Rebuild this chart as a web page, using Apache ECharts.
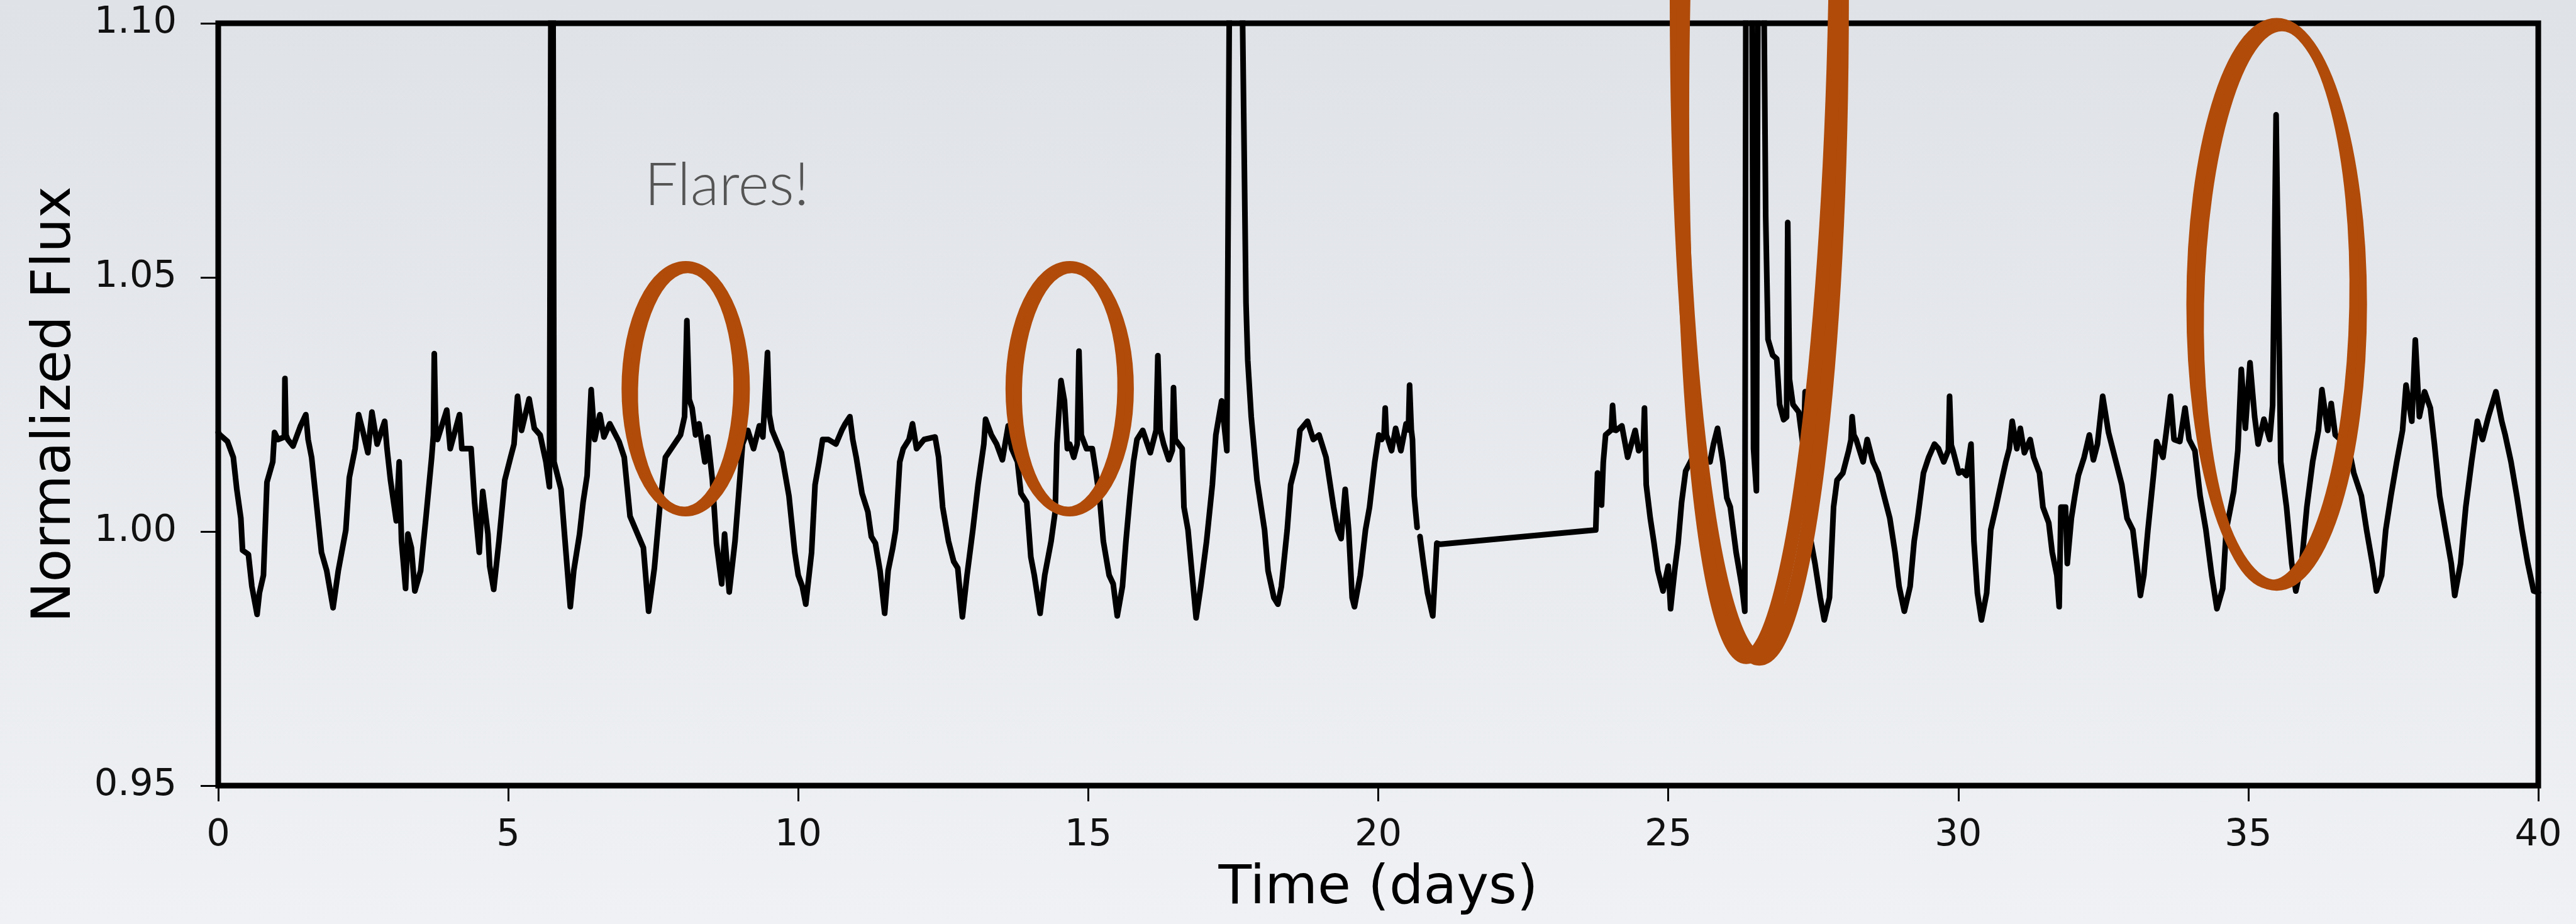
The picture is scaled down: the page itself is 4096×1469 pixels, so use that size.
<!DOCTYPE html>
<html>
<head>
<meta charset="utf-8">
<script src="https://cdn.jsdelivr.net/npm/echarts/dist/echarts.min.js"></script>
<style>
html,body{margin:0;padding:0;width:4096px;height:1469px;overflow:hidden;background:#e9ebef;}
#chart{width:4096px;height:1469px;}
</style>
</head>
<body>
<div id="chart"></div>
<script>
// ---------------- data ----------------
const timeDays = [
 0.00,0.03,0.16,0.26,0.32,0.39,0.42,0.52,0.58,0.67,0.71,0.78,0.84,0.94,0.97,1.03,1.14,1.15,1.17,1.20,
 1.29,1.42,1.51,1.55,1.61,1.68,1.78,1.87,1.98,2.07,2.20,2.26,2.36,2.42,2.49,2.58,2.65,2.74,2.87,2.91,
 2.97,3.07,3.12,3.16,3.23,3.27,3.33,3.39,3.49,3.58,3.68,3.71,3.725,3.75,3.78,3.94,4.00,4.16,4.20,4.36,
 4.42,4.50,4.56,4.65,4.68,4.75,4.84,4.94,5.04,5.10,5.16,5.23,5.36,5.45,5.55,5.65,5.71,5.74,5.77,5.79,
 5.91,5.97,6.07,6.13,6.23,6.29,6.36,6.43,6.49,6.58,6.65,6.75,6.91,7.00,7.10,7.20,7.33,7.42,7.52,7.62,
 7.71,7.84,7.97,8.04,8.08,8.12,8.17,8.23,8.29,8.39,8.44,8.52,8.59,8.68,8.73,8.81,8.91,9.04,9.13,9.23,
 9.33,9.39,9.47,9.50,9.55,9.71,9.84,9.94,
 10.00,10.07,10.13,10.23,10.29,10.36,10.42,10.52,10.65,10.75,10.81,10.89,10.94,11.00,11.10,11.20,11.26,11.33,11.41,11.49,
 11.55,11.63,11.68,11.75,11.81,11.91,11.97,12.04,12.17,12.36,12.42,12.49,12.59,12.68,12.75,12.83,12.91,13.01,13.10,13.20,
 13.23,13.33,13.42,13.52,13.62,13.68,13.78,13.84,13.94,14.01,14.07,14.17,14.25,14.36,14.43,14.46,14.53,14.59,14.64,14.68,
 14.75,14.81,14.84,14.88,14.97,15.07,15.13,15.20,15.26,15.36,15.43,15.50,15.59,15.65,15.72,15.78,15.84,15.94,16.07,16.17,
 16.20,16.24,16.30,16.39,16.45,16.47,16.50,16.62,16.65,16.72,16.78,16.86,16.94,17.04,17.14,17.20,17.30,17.39,17.44,17.64,
 17.72,17.75,17.81,17.91,17.98,18.04,18.10,18.20,18.27,18.33,18.43,18.49,18.59,18.65,18.78,18.88,18.98,19.10,19.23,19.30,
 19.36,19.43,19.49,19.55,19.59,19.69,19.78,19.85,19.94,20.01,
 20.06,20.10,20.12,20.14,20.17,20.23,20.30,20.39,20.48,20.52,20.54,20.57,20.59,20.62,20.67,20.69,20.72,20.78,20.85,20.94,
 21.01,21.07,23.75,23.78,23.85,23.88,23.92,24.02,24.04,24.07,24.10,24.20,24.30,24.43,24.49,24.57,24.59,24.62,24.69,24.75,
 24.82,24.91,25.00,25.04,25.11,25.17,25.23,25.30,25.40,25.49,25.59,25.72,25.78,25.85,25.94,26.01,26.07,26.17,26.27,26.32,
 26.34,26.44,26.47,26.52,26.55,26.64,26.68,26.72,26.80,26.87,26.92,26.99,27.04,27.06,27.09,27.15,27.25,27.33,27.36,27.40,
 27.46,27.53,27.62,27.69,27.78,27.85,27.91,28.01,28.11,28.15,28.17,28.20,28.24,28.36,28.43,28.53,28.62,28.72,28.82,28.91,
 28.98,29.07,29.17,29.24,29.30,29.40,29.49,29.59,29.66,29.75,29.83,29.85,29.88,29.91,30.01,
 30.07,30.14,30.22,30.27,30.33,30.40,30.49,30.56,30.65,30.75,30.82,30.88,30.93,31.01,31.07,31.14,31.24,31.30,31.40,31.46,
 31.56,31.62,31.70,31.74,31.77,31.85,31.88,31.95,32.01,32.07,32.17,32.26,32.33,32.40,32.49,32.59,32.72,32.82,32.91,33.01,
 33.08,33.14,33.20,33.27,33.37,33.42,33.53,33.59,33.66,33.72,33.82,33.91,33.98,34.08,34.17,34.27,34.37,34.46,34.56,34.62,
 34.75,34.82,34.88,34.95,35.03,35.11,35.17,35.27,35.37,35.42,35.48,35.56,35.66,35.75,35.82,35.92,36.01,36.11,36.21,36.27,
 36.37,36.43,36.50,36.59,36.72,36.82,36.95,37.04,37.14,37.21,37.30,37.37,37.46,37.56,37.66,37.72,37.82,37.88,37.95,38.04,
 38.14,38.21,38.30,38.40,38.50,38.56,38.66,38.75,38.85,38.95,39.04,39.14,39.27,39.37,39.43,39.53,39.63,39.72,39.82,39.92,
 40.00
];
const normalizedFlux = [
 1.0195,1.0190,1.0177,1.0146,1.0083,1.0026,0.9963,0.9955,0.9892,0.9837,0.9879,0.9914,1.0097,1.0137,1.0195,1.0181,1.0186,1.0301,1.0190,1.0181,
 1.0168,1.0208,1.0230,1.0181,1.0146,1.0070,0.9959,0.9923,0.9850,0.9923,1.0003,1.0106,1.0163,1.0230,1.0199,1.0155,1.0235,1.0172,1.0217,1.0163,
 1.0101,1.0021,1.0137,0.9981,0.9888,0.9995,0.9968,0.9883,0.9923,1.0026,1.0146,1.0190,1.0350,1.0200,1.0181,1.0239,1.0163,1.0230,1.0163,1.0163,
 1.0057,0.9959,1.0079,0.9995,0.9932,0.9886,0.9981,1.0101,1.0146,1.0172,1.0266,1.0199,1.0261,1.0203,1.0190,1.0137,1.0088,1.1200,1.1200,1.0137,
 1.0083,0.9995,0.9852,0.9923,0.9995,1.0057,1.0110,1.0279,1.0181,1.0230,1.0186,1.0212,1.0177,1.0146,1.0030,1.0003,0.9968,0.9843,0.9928,1.0057,
 1.0146,1.0168,1.0190,1.0226,1.0415,1.0260,1.0243,1.0190,1.0212,1.0137,1.0186,1.0101,0.9977,0.9897,0.9995,0.9881,0.9981,1.0172,1.0199,1.0163,
 1.0208,1.0186,1.0352,1.0230,1.0199,1.0155,1.0070,0.9959,
 0.9914,0.9892,0.9857,0.9959,1.0092,1.0137,1.0181,1.0181,1.0172,1.0199,1.0212,1.0226,1.0181,1.0146,1.0075,1.0039,0.9990,0.9977,0.9923,0.9839,
 0.9923,0.9968,1.0003,1.0137,1.0163,1.0181,1.0212,1.0163,1.0181,1.0186,1.0146,1.0048,0.9981,0.9941,0.9928,0.9832,0.9914,1.0003,1.0092,1.0172,
 1.0221,1.0190,1.0172,1.0141,1.0208,1.0163,1.0137,1.0075,1.0057,0.9950,0.9914,0.9839,0.9914,0.9981,1.0039,1.0172,1.0297,1.0257,1.0163,1.0172,
 1.0146,1.0172,1.0355,1.0190,1.0163,1.0163,1.0119,1.0061,0.9981,0.9914,0.9897,0.9834,0.9892,0.9981,1.0070,1.0137,1.0181,1.0199,1.0155,1.0199,
 1.0346,1.0200,1.0172,1.0141,1.0160,1.0283,1.0181,1.0163,1.0048,1.0003,0.9928,0.9830,0.9892,0.9981,1.0092,1.0190,1.0257,1.0159,1.1200,1.1200,
 1.0450,1.0337,1.0226,1.0101,1.0048,1.0003,0.9923,0.9870,0.9857,0.9892,1.0003,1.0092,1.0137,1.0199,1.0217,1.0181,1.0190,1.0146,1.0048,1.0003,
 0.9986,1.0083,1.0003,0.9870,0.9852,0.9914,1.0003,1.0048,1.0137,1.0190,
 1.0181,1.0190,1.0243,1.0190,1.0181,1.0159,1.0203,1.0159,1.0212,1.0200,1.0288,1.0200,1.0181,1.0070,1.0008,null,0.9990,0.9937,0.9879,0.9834,
 0.9977,0.9975,1.0003,1.0115,1.0052,1.0137,1.0190,1.0200,1.0248,1.0200,1.0199,1.0208,1.0146,1.0199,1.0159,1.0170,1.0243,1.0092,1.0026,0.9981,
 0.9923,0.9883,0.9932,0.9848,0.9923,0.9977,1.0057,1.0119,1.0141,1.0172,1.0146,1.0137,1.0172,1.0203,1.0137,1.0066,1.0048,0.9959,0.9892,0.9843,
 1.1200,1.1200,1.0163,1.0080,1.1200,1.1200,1.0620,1.0378,1.0347,1.0340,1.0250,1.0220,1.0225,1.0608,1.0300,1.0250,1.0235,1.0163,1.0275,1.0137,
 0.9981,0.9937,0.9870,0.9826,0.9870,1.0048,1.0101,1.0115,1.0159,1.0180,1.0226,1.0190,1.0181,1.0137,1.0181,1.0137,1.0115,1.0070,1.0026,0.9959,
 0.9892,0.9843,0.9892,0.9981,1.0026,1.0115,1.0146,1.0172,1.0163,1.0137,1.0160,1.0266,1.0170,1.0159,1.0115,
 1.0119,1.0110,1.0172,0.9981,0.9879,0.9826,0.9879,1.0003,1.0048,1.0101,1.0137,1.0163,1.0217,1.0163,1.0203,1.0155,1.0181,1.0146,1.0115,1.0048,
 1.0017,0.9959,0.9914,0.9852,1.0048,1.0048,0.9937,1.0026,1.0070,1.0110,1.0146,1.0190,1.0141,1.0172,1.0266,1.0195,1.0137,1.0092,1.0026,1.0003,
 0.9937,0.9874,0.9914,1.0003,1.0115,1.0177,1.0146,1.0199,1.0266,1.0181,1.0177,1.0243,1.0181,1.0159,1.0070,1.0003,0.9914,0.9848,0.9888,1.0003,
 1.0079,1.0159,1.0319,1.0203,1.0332,1.0226,1.0172,1.0221,1.0181,1.0248,1.0820,1.0137,1.0048,0.9937,0.9883,0.9937,1.0048,1.0137,1.0199,1.0279,
 1.0199,1.0252,1.0190,1.0181,1.0172,1.0115,1.0070,1.0003,0.9937,0.9883,0.9914,1.0003,1.0070,1.0137,1.0199,1.0288,1.0217,1.0377,1.0226,1.0275,
 1.0243,1.0172,1.0070,1.0003,0.9937,0.9874,0.9937,1.0048,1.0137,1.0217,1.0181,1.0226,1.0275,1.0217,1.0190,1.0137,1.0070,1.0003,0.9937,0.9883,
 0.9880
];
const xTickValues = [0, 5, 10, 15, 20, 25, 30, 35, 40];
const yTickLabels = ['0.95', '1.00', '1.05', '1.10'];
const xAxisTitle = 'Time (days)';
const yAxisTitle = 'Normalized Flux';
const noteText = 'Flares!';

// annotation rings, in data units (centre day, centre flux, half-width in days, half-height in flux)
const ringDay   = [8.06, 14.68, 26.57, 35.49];
const ringFlux  = [1.0281, 1.0281, 1.1046, 1.0447];
const ringHalfW = [0.96, 0.96, 1.36, 1.40];
const ringHalfH = [0.0242, 0.0242, 0.1295, 0.0553];
const noteDay = 7.35, noteFlux = 1.0680;

// ---------------- chart ----------------
const seriesData = timeDays.map((t, i) => [t, normalizedFlux[i] === null ? '-' : normalizedFlux[i]]);
const ringStroke = [15, 15, 24, 17];   // px
const ringSpread = [6, 6, 5, 6];       // px, widens the sides like a hand-drawn double loop
const ORANGE = '#b04b0a';

const chart = echarts.init(document.getElementById('chart'), null, {renderer: 'canvas', width: 4096, height: 1469});

const option = {
  animation: false,
  backgroundColor: {
    type: 'linear', x: 0, y: 0, x2: 0, y2: 1,
    colorStops: [{offset: 0, color: '#dfe2e7'}, {offset: 1, color: '#eff1f4'}]
  },
  grid: {
    left: 347, right: 60, top: 37, bottom: 220,
    containLabel: false, outerBoundsMode: 'none',
    show: true, borderColor: '#000', borderWidth: 9, backgroundColor: 'transparent'
  },
  xAxis: {
    type: 'value', min: 0, max: 40, interval: 5,
    name: xAxisTitle, nameLocation: 'middle', nameGap: 122,
    nameTextStyle: {fontFamily: 'DejaVu Sans', fontSize: 86, color: '#000'},
    axisLine: {show: false},
    axisTick: {show: true, length: 25, lineStyle: {color: '#000', width: 3}},
    axisLabel: {
      show: true, margin: 50, fontFamily: 'DejaVu Sans', fontSize: 59, color: '#111',
      showMinLabel: true, showMaxLabel: true, hideOverlap: false,
      formatter: v => (xTickValues.indexOf(v) >= 0 ? String(v) : '')
    },
    splitLine: {show: false}
  },
  yAxis: {
    type: 'value', min: 0.95, max: 1.10, interval: 0.05,
    name: yAxisTitle, nameLocation: 'middle', nameGap: 215, nameRotate: 90,
    nameTextStyle: {fontFamily: 'DejaVu Sans', fontSize: 86, color: '#000'},
    axisLine: {show: false},
    axisTick: {show: true, length: 28, lineStyle: {color: '#000', width: 3}},
    axisLabel: {
      show: true, margin: 66, fontFamily: 'DejaVu Sans', fontSize: 59, color: '#111',
      showMinLabel: true, showMaxLabel: true, hideOverlap: false,
      formatter: v => {
        const s = v.toFixed(2);
        return yTickLabels.indexOf(s) >= 0 ? s : '';
      }
    },
    splitLine: {show: false}
  },
  series: [{
    type: 'line',
    data: seriesData,
    showSymbol: false,
    symbol: 'none',
    connectNulls: false,
    clip: true,
    sampling: null,
    lineStyle: {color: '#000', width: 9, join: 'round', cap: 'round'},
    z: 3
  }]
};
chart.setOption(option);

// annotations placed from data coordinates
const graphics = [];
for (let i = 0; i < ringDay.length; i++) {
  const c = chart.convertToPixel({gridIndex: 0}, [ringDay[i], ringFlux[i]]);
  const ex = chart.convertToPixel({gridIndex: 0}, [ringDay[i] + ringHalfW[i], ringFlux[i]]);
  const ey = chart.convertToPixel({gridIndex: 0}, [ringDay[i], ringFlux[i] + ringHalfH[i]]);
  const rx = Math.abs(ex[0] - c[0]);
  const ry = Math.abs(c[1] - ey[1]);
  const d = ringSpread[i];
  graphics.push({
    type: 'ellipse', z: 100, silent: true,
    shape: {cx: c[0], cy: c[1], rx: rx + d, ry: ry},
    style: {fill: 'none', stroke: ORANGE, lineWidth: ringStroke[i]}
  });
  graphics.push({
    type: 'ellipse', z: 101, silent: true,
    originX: c[0], originY: c[1], rotation: -0.02,
    shape: {cx: c[0], cy: c[1] + 2, rx: rx - d, ry: ry - 3},
    style: {fill: 'none', stroke: ORANGE, lineWidth: ringStroke[i] * 0.9}
  });
}
const np = chart.convertToPixel({gridIndex: 0}, [noteDay, noteFlux]);
graphics.push({
  type: 'text', z: 90, silent: true,
  x: np[0], y: np[1],
  style: {text: noteText, font: '300 94px Lato', fill: '#555555', align: 'left', verticalAlign: 'middle'}
});
chart.setOption({graphic: graphics});
</script>
</body>
</html>
